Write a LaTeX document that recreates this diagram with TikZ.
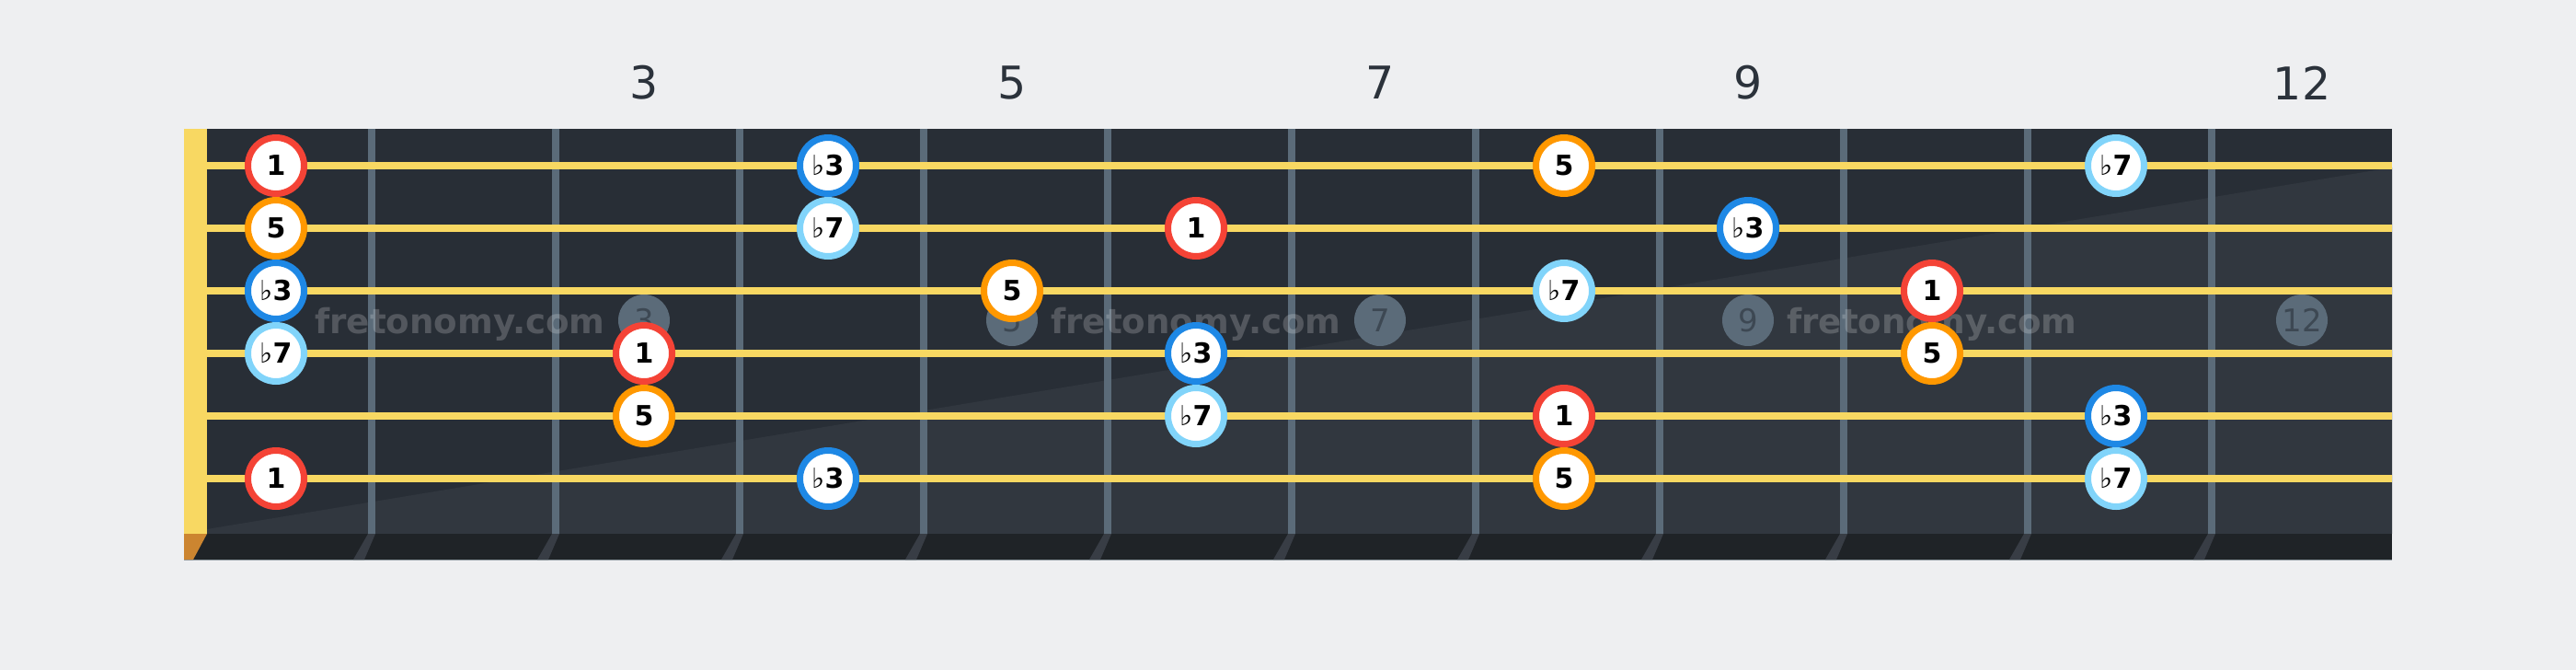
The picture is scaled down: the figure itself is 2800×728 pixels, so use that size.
\documentclass[tikz,border=0pt]{standalone}
\usepackage{fontspec}
\setmainfont{DejaVu Sans}
\definecolor{bgc}{HTML}{EEEFF1}
\definecolor{boardA}{HTML}{282E36}
\definecolor{boardB}{HTML}{31373F}
\definecolor{stripc}{HTML}{1F2327}
\definecolor{shadowc}{HTML}{383D45}
\definecolor{nutc}{HTML}{F8D862}
\definecolor{nutbase}{HTML}{CC8530}
\definecolor{fretc}{HTML}{5B6B79}
\definecolor{markertext}{HTML}{3D4853}
\definecolor{edgec}{HTML}{8E989F}
\definecolor{numc}{HTML}{2B323B}
\definecolor{cRed}{HTML}{F44336}
\definecolor{cOrange}{HTML}{FF9800}
\definecolor{cBlue}{HTML}{1E88E5}
\definecolor{cLight}{HTML}{81D4FA}
\newcommand{\fl}{{\mdseries\char"266D}}
\tikzset{
  deg/.style={circle, draw, fill=white, line width=3.5pt, minimum size=30.5pt,
    inner sep=0pt, text height=10.9pt, text depth=0pt, text=black,
    font=\fontsize{15pt}{18pt}\selectfont\bfseries},
  dr/.style={deg, draw=cRed},
  dfi/.style={deg, draw=cOrange},
  dth/.style={deg, draw=cBlue},
  dse/.style={deg, draw=cLight},
  marker/.style={circle, fill=fretc, minimum size=28pt, inner sep=0pt,
    text=markertext, font=\fontsize{17pt}{20pt}\selectfont},
  fretnum/.style={inner sep=0pt, text=numc, font=\fontsize{24.5pt}{28pt}\selectfont},
  wmark/.style={inner sep=0pt, text=white, text opacity=0.2,
    font=\fontsize{18.6pt}{22pt}\selectfont\bfseries},
  fretline/.style={draw=fretc, line width=4pt},
  stringline/.style={draw=nutc, line width=4pt},
}
\begin{document}
\begin{tikzpicture}[x=0.5pt,y=-0.5pt]
\useasboundingbox (0,0) rectangle (2800,728);
\fill[bgc] (0,0) rectangle (2800,728);
% board
\fill[boardA] (200,140) rectangle (2600,580);
\fill[boardB] (225,575) -- (2600,182) -- (2600,580) -- (225,580) -- cycle;
\fill[stripc] (200,580) rectangle (2600,608);
\draw[edgec, line width=0.75pt] (200,608.5) -- (2600,608.5);
\foreach \x in {404,604,...,2404}
  \fill[shadowc] (\x-4,580) -- (\x+4,580) -- (\x-8,608) -- (\x-20,608) -- cycle;
\fill[nutbase] (200,580) -- (225,580) -- (210,608) -- (200,608) -- cycle;
% inlay markers
\foreach \f/\n in {700/3,1100/5,1500/7,1900/9,2502/12}
  \node[marker] (m\n) at (\f,348) {\n};
% frets
\foreach \x in {404,604,...,2404}
  \draw[fretline] (\x,140) -- (\x,580);
% watermark
\foreach \x/\k in {500/1,1300/2,2100/3}
  \node[wmark] (w\k) at (\x,352) {fretonomy.com};
% strings
\foreach \y in {180,248,316,384,452,520}
  \draw[stringline] (225,\y) -- (2600,\y);
% nut
\fill[nutc] (200,140) rectangle (225,580);
% fret numbers
\foreach \f/\n in {700/3,1100/5,1500/7,1900/9,2502/12}
  \node[fretnum] (t\n) at (\f,90) {\n};
% notes
\foreach \xx/\yy/\st/\lab/\nm in {
  300/180/dr/1/a1, 900/180/dth/{\fl3}/a2, 1700/180/dfi/5/a3, 2300/180/dse/{\fl7}/a4,
  300/248/dfi/5/b1, 900/248/dse/{\fl7}/b2, 1300/248/dr/1/b3, 1900/248/dth/{\fl3}/b4,
  300/316/dth/{\fl3}/c1, 1100/316/dfi/5/c2, 1700/316/dse/{\fl7}/c3, 2100/316/dr/1/c4,
  300/384/dse/{\fl7}/d1, 700/384/dr/1/d2, 1300/384/dth/{\fl3}/d3, 2100/384/dfi/5/d4,
  700/452/dfi/5/e1, 1300/452/dse/{\fl7}/e2, 1700/452/dr/1/e3, 2300/452/dth/{\fl3}/e4,
  300/520/dr/1/f1, 900/520/dth/{\fl3}/f2, 1700/520/dfi/5/f3, 2300/520/dse/{\fl7}/f4}
  \node[\st] (\nm) at (\xx,\yy) {\lab};
\end{tikzpicture}
\end{document}
